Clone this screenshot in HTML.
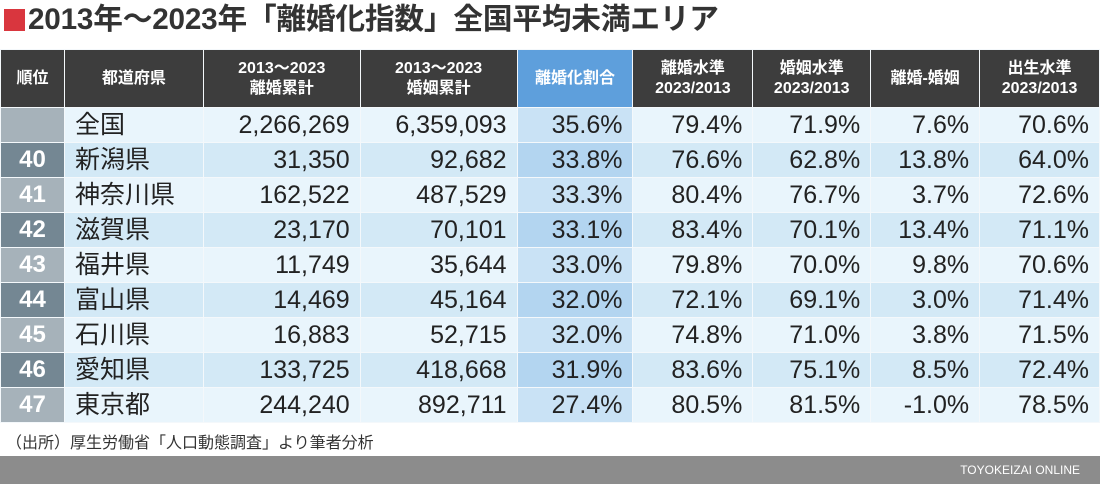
<!DOCTYPE html>
<html><head><meta charset="utf-8"><style>
*{margin:0;padding:0;box-sizing:border-box}
body{width:1100px;height:484px;background:#fff;font-family:"Liberation Sans","Noto Sans CJK JP",sans-serif;position:relative;overflow:hidden;color:#222}
.title{position:absolute;left:4px;top:1px;height:38px;font-size:29.7px;font-weight:bold;color:#333;line-height:38px;letter-spacing:-0.2px}
.title .sq{display:inline-block;width:21px;height:22px;background:#d9363e;vertical-align:-2px;margin-right:3px}
table{position:absolute;left:0;top:49px;border-collapse:collapse;table-layout:fixed}
td,th{border:1px solid #f4f8fb;padding:0 10px;overflow:hidden;white-space:nowrap}
th{background:#3d3d3d;color:#fff;font-size:16px;font-weight:bold;height:58px;line-height:20px;text-align:center}
th.hl{background:#5e9fdc}
td{height:35px;font-size:25px;text-align:right;line-height:32px}
td.name{text-align:left;padding-left:10px}
td.rk{color:#fff;text-align:center;font-weight:bold;padding:0;font-size:24px}
tr.o td{background:#e9f5fc}
tr.e td{background:#d3e9f6}
tr.o td.hl{background:#c9e2f5}
tr.e td.hl{background:#b3d5f0}
tr.o td.rk{background:#a6b2ba}
tr.e td.rk{background:#748793}
.note{position:absolute;left:6px;top:429px;font-size:16px;color:#333}
.bar{position:absolute;left:0;top:456px;width:1100px;height:28px;background:#8c8c8c;color:#fff;font-size:12px;text-align:right;padding-right:20px;line-height:28px}
</style></head><body>
<div class="title"><span class="sq"></span>2013年〜2023年「離婚化指数」全国平均未満エリア</div>
<table>
<colgroup><col style="width:64px"><col style="width:139px"><col style="width:157px"><col style="width:157px"><col style="width:116px"><col style="width:120px"><col style="width:118px"><col style="width:109px"><col style="width:120px"></colgroup>
<tr><th>順位</th><th>都道府県</th><th>2013〜2023<br>離婚累計</th><th>2013〜2023<br>婚姻累計</th><th class="hl">離婚化割合</th><th>離婚水準<br>2023/2013</th><th>婚姻水準<br>2023/2013</th><th>離婚-婚姻</th><th>出生水準<br>2023/2013</th></tr>
<tr class="o"><td class="rk"></td><td class="name">全国</td><td>2,266,269</td><td>6,359,093</td><td class="hl">35.6%</td><td>79.4%</td><td>71.9%</td><td>7.6%</td><td>70.6%</td></tr>
<tr class="e"><td class="rk">40</td><td class="name">新潟県</td><td>31,350</td><td>92,682</td><td class="hl">33.8%</td><td>76.6%</td><td>62.8%</td><td>13.8%</td><td>64.0%</td></tr>
<tr class="o"><td class="rk">41</td><td class="name">神奈川県</td><td>162,522</td><td>487,529</td><td class="hl">33.3%</td><td>80.4%</td><td>76.7%</td><td>3.7%</td><td>72.6%</td></tr>
<tr class="e"><td class="rk">42</td><td class="name">滋賀県</td><td>23,170</td><td>70,101</td><td class="hl">33.1%</td><td>83.4%</td><td>70.1%</td><td>13.4%</td><td>71.1%</td></tr>
<tr class="o"><td class="rk">43</td><td class="name">福井県</td><td>11,749</td><td>35,644</td><td class="hl">33.0%</td><td>79.8%</td><td>70.0%</td><td>9.8%</td><td>70.6%</td></tr>
<tr class="e"><td class="rk">44</td><td class="name">富山県</td><td>14,469</td><td>45,164</td><td class="hl">32.0%</td><td>72.1%</td><td>69.1%</td><td>3.0%</td><td>71.4%</td></tr>
<tr class="o"><td class="rk">45</td><td class="name">石川県</td><td>16,883</td><td>52,715</td><td class="hl">32.0%</td><td>74.8%</td><td>71.0%</td><td>3.8%</td><td>71.5%</td></tr>
<tr class="e"><td class="rk">46</td><td class="name">愛知県</td><td>133,725</td><td>418,668</td><td class="hl">31.9%</td><td>83.6%</td><td>75.1%</td><td>8.5%</td><td>72.4%</td></tr>
<tr class="o"><td class="rk">47</td><td class="name">東京都</td><td>244,240</td><td>892,711</td><td class="hl">27.4%</td><td>80.5%</td><td>81.5%</td><td>-1.0%</td><td>78.5%</td></tr>
</table>
<div class="note">（出所）厚生労働省「人口動態調査」より筆者分析</div>
<div class="bar">TOYOKEIZAI ONLINE</div>
</body></html>
